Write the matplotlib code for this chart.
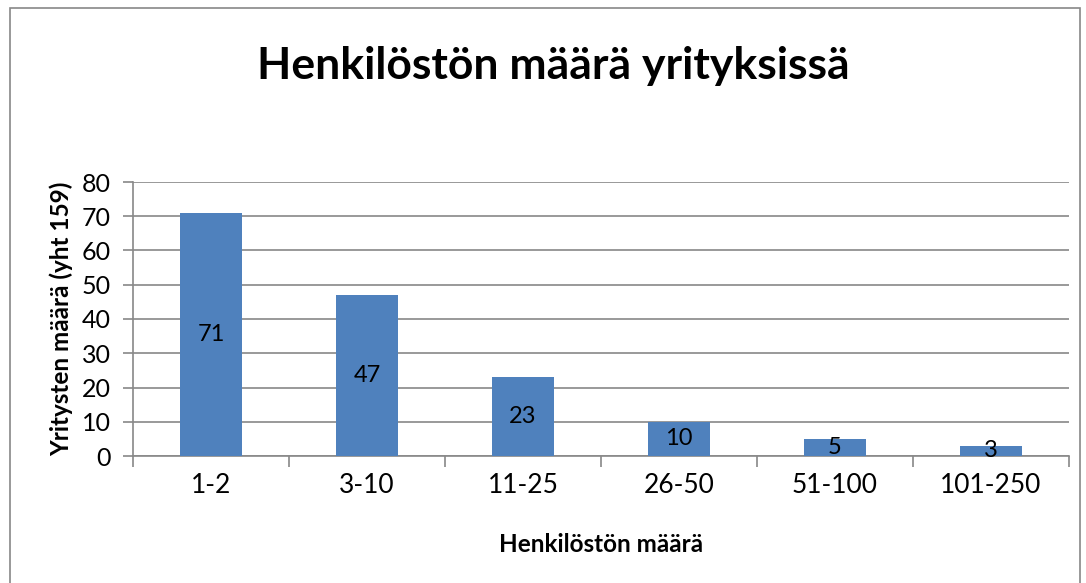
import matplotlib
matplotlib.use("Agg")
import matplotlib.pyplot as plt
from matplotlib.patches import Rectangle

categories = ["1-2", "3-10", "11-25", "26-50", "51-100", "101-250"]
values = [71, 47, 23, 10, 5, 3]
yticks = [0, 10, 20, 30, 40, 50, 60, 70, 80]

plt.rcParams['font.family'] = ['Lato', 'DejaVu Sans']

fig = plt.figure(figsize=(10.86, 5.83), dpi=100)
fig.patches.append(Rectangle((10/1086, -0.1), 1070/1086, 1.1 - 8/583, transform=fig.transFigure,
                             fill=False, edgecolor='#888888', linewidth=1.2))
ax = fig.add_axes([133/1086, 1 - 456/583, (1069 - 133)/1086, (456 - 182)/583])

x = list(range(len(categories)))
ax.bar(x, values, width=0.40, color='#4F81BD', zorder=3)
for xi, v in zip(x, values):
    ax.text(xi, v / 2, str(v), ha='center', va='center', fontsize=17, color='black', zorder=4)

ax.set_xlim(-0.5, len(categories) - 0.5)
ax.set_ylim(0, 80)
ax.set_yticks(yticks)
ax.tick_params(axis='y', labelsize=18, length=7, color='#888888', width=1.2, pad=9)
ax.yaxis.grid(True, color='#888888', linewidth=1.2, zorder=0)
ax.set_xticks(x)
ax.set_xticklabels(categories, fontsize=19)
ax.tick_params(axis='x', length=0, pad=12)
ax.set_xticks([i - 0.5 for i in range(len(categories) + 1)], minor=True)
ax.tick_params(axis='x', which='minor', length=8, color='#888888', width=1.2)

for s in ['top', 'right']:
    ax.spines[s].set_visible(False)
ax.spines['left'].set_color('#888888')
ax.spines['bottom'].set_color('#888888')
ax.spines['left'].set_linewidth(1.2)
ax.spines['bottom'].set_linewidth(1.2)

ax.set_ylabel("Yritysten määrä (yht 159)", fontsize=17.5, fontweight='bold', labelpad=6)
ax.set_xlabel("Henkilöstön määrä", fontsize=17.5, fontweight='bold')
ax.xaxis.set_label_coords(0.5, -(545 - 456) / (456 - 182))
ax.xaxis.label.set_va('center')
fig.text(553 / 1086, 1 - 66/583, "Henkilöstön määrä yrityksissä", ha='center', va='center',
         fontsize=32, fontweight='bold')

fig.savefig("out.png", dpi=100)
